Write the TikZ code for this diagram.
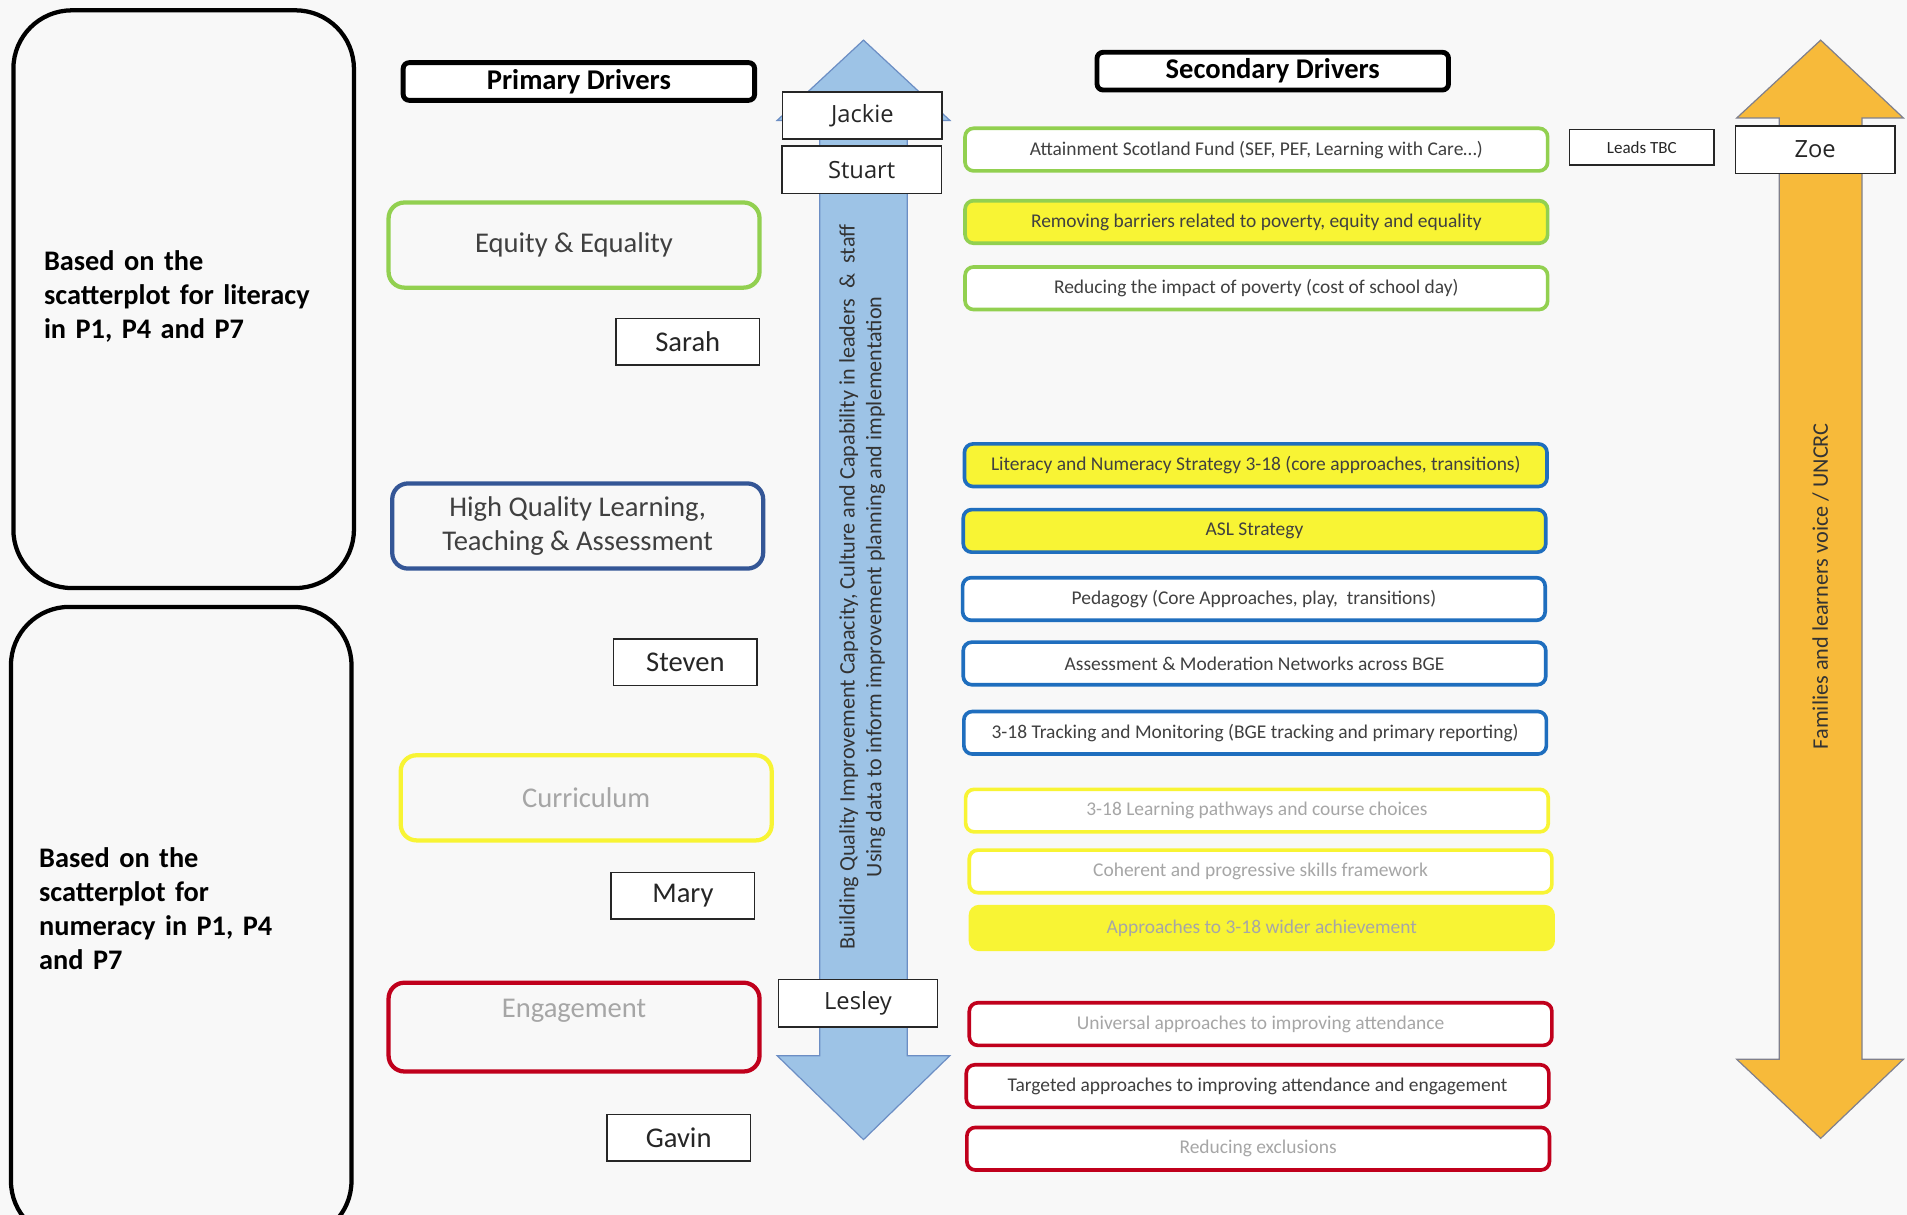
\documentclass[tikz,border=0pt]{standalone}
\usepackage{fontspec}
\setmainfont{Carlito}
\newfontfamily\leadfont{Open Sans}

\definecolor{pagegrey}{RGB}{248,248,248}
\definecolor{drvgreen}{RGB}{146,208,80}
\definecolor{drvblue}{RGB}{52,86,150}
\definecolor{secblue}{RGB}{31,110,190}
\definecolor{drvyellow}{RGB}{248,244,52}
\definecolor{drvred}{RGB}{192,0,28}
\definecolor{softtext}{RGB}{166,166,166}
\definecolor{maintext}{RGB}{64,64,64}
\definecolor{arrblue}{RGB}{157,195,230}
\definecolor{arrblueline}{RGB}{108,142,196}
\definecolor{arrorange}{RGB}{247,186,58}
\definecolor{arrline}{RGB}{128,128,140}

\begin{document}
\begin{tikzpicture}[x=1pt,y=-1pt,
  scatbox/.style={draw=black, line width=3.5pt, rounded corners=48pt, minimum width=280pt},
  scattxt/.style={anchor=west, align=left, text width=250pt, inner sep=0pt, font=\bfseries\fontsize{23.3}{28}\selectfont},
  headbox/.style={draw=black, fill=white, line width=4pt, rounded corners=5pt, minimum width=289pt, minimum height=31pt, inner sep=0pt, font=\bfseries\fontsize{23.5}{28}\selectfont},
  primbox/.style={line width=3.5pt, rounded corners=13pt, minimum width=305pt, minimum height=70pt, align=center, text=maintext, font=\fontsize{23.5}{28}\selectfont},
  namebox/.style={draw=black!85, fill=white, line width=1.3pt, minimum width=118pt, minimum height=38pt, inner sep=0pt, text=black!85, font=\fontsize{23.5}{26}\selectfont},
  leadbox/.style={namebox, minimum width=131pt, minimum height=39pt, font=\leadfont\fontsize{19.5}{24}\selectfont},
  secbox/.style={line width=3pt, rounded corners=7pt, fill=white, minimum width=479pt, minimum height=35pt, inner sep=0pt, text=maintext, font=\fontsize{16}{18}\selectfont},
  arrtxt/.style={rotate=90, align=center, text=black!80, inner sep=0pt}
]
  \fill[pagegrey] (0,0) rectangle (1568,999);
  \useasboundingbox (0,0) rectangle (1568,999);

  % scatterplot boxes
  \node[scatbox, minimum height=475pt] (litbox) at (151,246) {};
  \node[scattxt] (littxt) at (36,244) {Based on the\\scatterplot for literacy\\in P1, P4 and P7};
  \node[scatbox, minimum height=520pt] (numbox) at (149,759) {};
  \node[scattxt] (numtxt) at (32,747) {Based on the\\scatterplot for\\numeracy in P1, P4\\and P7};

  % the two long arrows
  \draw[arrblueline, fill=arrblue, line width=1pt] (710,33) -- (781,99) -- (746,99) -- (746,868) -- (781,868) -- (710,937)
    -- (639,868) -- (674,868) -- (674,99) -- (639,99) -- cycle;
  \node[arrtxt, font=\fontsize{18.2}{22}\selectfont] (buildtxt) at (709,482.5)
    {Building Quality Improvement Capacity, Culture and Capability in leaders \ \& \ staff\\Using data to inform improvement planning and implementation};
  \draw[arrline, fill=arrorange, line width=1pt] (1497,33) -- (1565,97) -- (1531,97) -- (1531,871) -- (1565,871) -- (1497,936)
    -- (1428,871) -- (1463,871) -- (1463,97) -- (1428,97) -- cycle;
  \node[arrtxt, font=\fontsize{18.3}{22}\selectfont] (voicetxt) at (1497,482) {Families and learners voice / UNCRC};

  % headings
  \node[headbox] (primhd) at (476,67) {Primary Drivers};
  \node[headbox] (sechd) at (1046.5,58.5) {Secondary Drivers};

  % primary drivers and leads
  \node[primbox, draw=drvgreen] (equity) at (472,201.5) {Equity \& Equality};
  \node[primbox, draw=drvblue] (quality) at (475,432.5) {High Quality Learning,\\Teaching \& Assessment};
  \node[primbox, draw=drvyellow, text=softtext] (curric) at (482,656) {Curriculum};
  \node[primbox, draw=drvred, text=softtext, minimum height=73pt] (engage) at (472,844.5) {Engagement\\[3pt]~};

  \node[namebox] (sarah) at (565.5,281) {Sarah};
  \node[namebox] (steven) at (563.5,544.5) {Steven};
  \node[namebox] (mary) at (561.5,736.5) {Mary};
  \node[namebox] (gavin) at (558,935.5) {Gavin};
  \node[leadbox] (jackie) at (709,95) {Jackie};
  \node[leadbox] (stuart) at (708.5,139.5) {Stuart};
  \node[leadbox] (lesley) at (705.5,825) {Lesley};
  \node[leadbox] (zoe) at (1492.5,123) {Zoe};
  \node[namebox, minimum width=119pt, minimum height=29pt, font=\fontsize{14}{16}\selectfont] (leadstbc) at (1350,121) {Leads TBC};

  % secondary drivers
  \node[secbox, draw=drvgreen] (asf) at (1033,123) {Attainment Scotland Fund (SEF, PEF, Learning with Care…)};
  \node[secbox, draw=drvgreen, fill=drvyellow] (barriers) at (1033,182.5) {Removing barriers related to poverty, equity and equality};
  \node[secbox, draw=drvgreen] (schoolday) at (1033,237) {Reducing the impact of poverty (cost of school day)};
  \node[secbox, draw=secblue, fill=drvyellow] (litnum) at (1032.5,382.5) {Literacy and Numeracy Strategy 3-18 (core approaches, transitions)};
  \node[secbox, draw=secblue, fill=drvyellow] (asl) at (1031.5,436.5) {ASL Strategy};
  \node[secbox, draw=secblue] (pedagogy) at (1031,492.5) {Pedagogy (Core Approaches, play, \ transitions)};
  \node[secbox, draw=secblue] (moderate) at (1031.5,545.5) {Assessment \& Moderation Networks across BGE};
  \node[secbox, draw=secblue] (tracking) at (1032,602.5) {3-18 Tracking and Monitoring (BGE tracking and primary reporting)};
  \node[secbox, draw=drvyellow, text=softtext] (pathways) at (1033.5,666.5) {3-18 Learning pathways and course choices};
  \node[secbox, draw=drvyellow, text=softtext] (skills) at (1036.5,716.5) {Coherent and progressive skills framework};
  \node[secbox, draw=drvyellow, fill=drvyellow, text=softtext] (wider) at (1037.5,763) {Approaches to 3-18 wider achievement};
  \node[secbox, draw=drvred, text=softtext] (universal) at (1036.5,842) {Universal approaches to improving attendance};
  \node[secbox, draw=drvred] (targeted) at (1034,893) {Targeted approaches to improving attendance and engagement};
  \node[secbox, draw=drvred, text=softtext] (exclusion) at (1034.5,944.5) {Reducing exclusions};
\end{tikzpicture}
\end{document}
